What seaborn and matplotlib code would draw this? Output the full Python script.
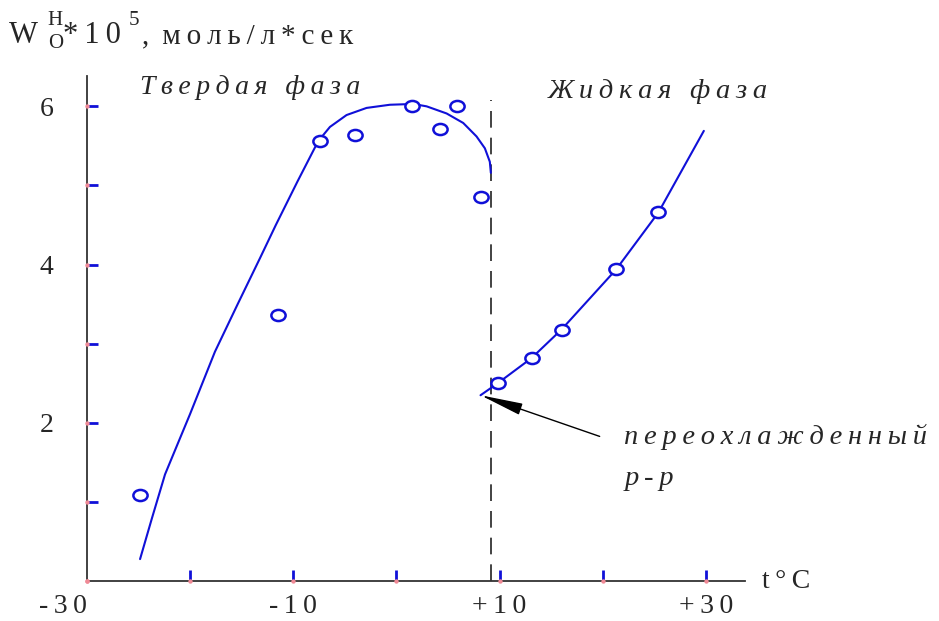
import matplotlib
matplotlib.use("Agg")
import matplotlib.pyplot as plt
from matplotlib.path import Path
from matplotlib.transforms import Affine2D
import seaborn as sns
import pandas as pd

# ---- data ----
solid_t = [-24.9, -11.5, -7.4, -4.0, 1.5, 4.2, 5.9, 8.2]
solid_w = [1.09, 3.37, 5.56, 5.64, 6.01, 5.71, 6.01, 4.86]

liquid_t = [9.8, 13.1, 16.0, 21.3, 25.4]
liquid_w = [2.50, 2.82, 3.18, 3.94, 4.66]

solid_curve_t = [-24.86, -23.7, -22.44, -21.2, -20.02, -17.6, -15.4, -13.24, -11.7, -9.6, -7.59,
                 -6.45, -4.84, -2.9, -0.64, 1.62, 2.92, 4.86, 6.47, 7.76, 8.57, 9.05, 9.15]
solid_curve_w = [0.28, 0.80, 1.35, 1.74, 2.11, 2.90, 3.50, 4.08, 4.50, 5.05, 5.56,
                 5.74, 5.89, 5.98, 6.02, 6.03, 6.00, 5.91, 5.79, 5.62, 5.47, 5.30, 5.16]

liquid_curve_t = [8.15, 9.8, 13.1, 16.0, 21.3, 25.4, 29.8]
liquid_curve_w = [2.35, 2.50, 2.82, 3.18, 3.94, 4.66, 5.69]

x_ticks = [-30, -20, -10, 0, 10, 20, 30]
x_labels = ["-30", "", "-10", "", "+10", "", "+30"]
y_ticks = [0, 1, 2, 3, 4, 5, 6]
y_labels = ["", "", "2", "", "4", "", "6"]

transition_t = 9.2

# ---- style ----
sns.set_theme(style="white")
plt.rcParams["font.family"] = ["Liberation Serif", "DejaVu Serif"]

BLUE = "#1010d8"
PINK = "#f08a96"
TS = "\u2009"


def spaced(s, sep=TS):
    out = []
    for w in s.split(" "):
        out.append(sep.join(list(w)))
    return (sep + " " + sep).join(out)


fig = plt.figure(figsize=(9.39, 6.21), dpi=100)
ax = fig.add_axes([0.0927, 0.064, 0.7008, 0.8132])

df_sc = pd.DataFrame({"t": solid_curve_t, "w": solid_curve_w})
df_lc = pd.DataFrame({"t": liquid_curve_t, "w": liquid_curve_w})
df_sp = pd.DataFrame({"t": solid_t, "w": solid_w})
df_lp = pd.DataFrame({"t": liquid_t, "w": liquid_w})

ellipse = Path.unit_circle().transformed(Affine2D().scale(1.28, 1.0))

sns.lineplot(data=df_sc, x="t", y="w", sort=False, estimator=None, color=BLUE, lw=1.5, ax=ax, zorder=2)
sns.lineplot(data=df_lc, x="t", y="w", sort=False, estimator=None, color=BLUE, lw=1.5, ax=ax, zorder=2)
sns.scatterplot(data=df_sp, x="t", y="w", ax=ax, marker=ellipse, s=105, facecolor="white",
                edgecolor=BLUE, linewidth=1.8, zorder=3)
sns.scatterplot(data=df_lp, x="t", y="w", ax=ax, marker=ellipse, s=105, facecolor="white",
                edgecolor=BLUE, linewidth=1.8, zorder=3)

# transition dashed line
ax.plot([transition_t, transition_t], [0, 6.08], color="#222222", lw=1.2,
        dashes=(10, 6), zorder=1)

ax.set_xlim(-30, 33.8)
ax.set_ylim(0, 6.38)

for s in ["top", "right"]:
    ax.spines[s].set_visible(False)
for s in ["left", "bottom"]:
    ax.spines[s].set_color("#333333")
    ax.spines[s].set_linewidth(1.3)

ax.set_xticks(x_ticks)
ax.set_xticklabels([TS.join(list(l)) for l in x_labels])
ax.set_yticks(y_ticks)
ax.set_yticklabels(y_labels)
ax.tick_params(axis="x", bottom=True, direction="in", length=8, width=2, color=BLUE,
               labelsize=20, pad=9)
ax.tick_params(axis="y", left=True, direction="in", length=8, width=2, color=BLUE,
               labelsize=20, pad=24)
ax.xaxis.get_major_ticks()[0].tick1line.set_visible(False)
ax.yaxis.get_major_ticks()[0].tick1line.set_visible(False)
ax.get_xticklabels()[0].set_horizontalalignment("right")
ax.set_xlabel("")
ax.set_ylabel("")

# pink dots at tick bases
ax.scatter(x_ticks, [0] * len(x_ticks), s=10, color=PINK, zorder=4, clip_on=False, linewidths=0)
ax.scatter([-30] * len(y_ticks), y_ticks, s=10, color=PINK, zorder=4, clip_on=False, linewidths=0)


# axis titles (placed in pixels of the figure)
def ftext(px, py, s, size, **kw):
    fig.text(px / 939, 1 - py / 621, s, fontsize=size, va="baseline", ha="left", **kw)


ftext(9, 43, "W", 22)
ftext(47, 25, "H", 15)
ftext(48, 48, "O", 15)
ftext(63, 43, "*" + TS + "1" + TS + "0", 22)
ftext(129, 25, "5", 15)
ftext(142, 43, "," + TS + " " + spaced("моль/л*сек"), 21)

ax.text(35.4, 0.0, spaced("t°C"), fontsize=20, va="center", ha="left", clip_on=False)

ax.text(-24.9, 6.15, spaced("Твердая фаза"), fontsize=20, style="italic", va="baseline", clip_on=False)
ax.text(14.7, 6.10, spaced("Жидкая фаза"), fontsize=20.5, style="italic", va="baseline", clip_on=False)
ax.text(22.1, 1.73, spaced("переохлажденный"), fontsize=20.5, style="italic", va="baseline", clip_on=False)
ax.text(22.1, 1.22, spaced("р-р"), fontsize=20.5, style="italic", va="baseline", clip_on=False)

ax.annotate("", xy=(8.15, 2.35), xytext=(19.7, 1.83),
            arrowprops=dict(arrowstyle="-|>,head_length=2.2,head_width=0.3", color="black", lw=1.0,
                            shrinkA=0, shrinkB=0))

fig.savefig("out.png", dpi=100)
